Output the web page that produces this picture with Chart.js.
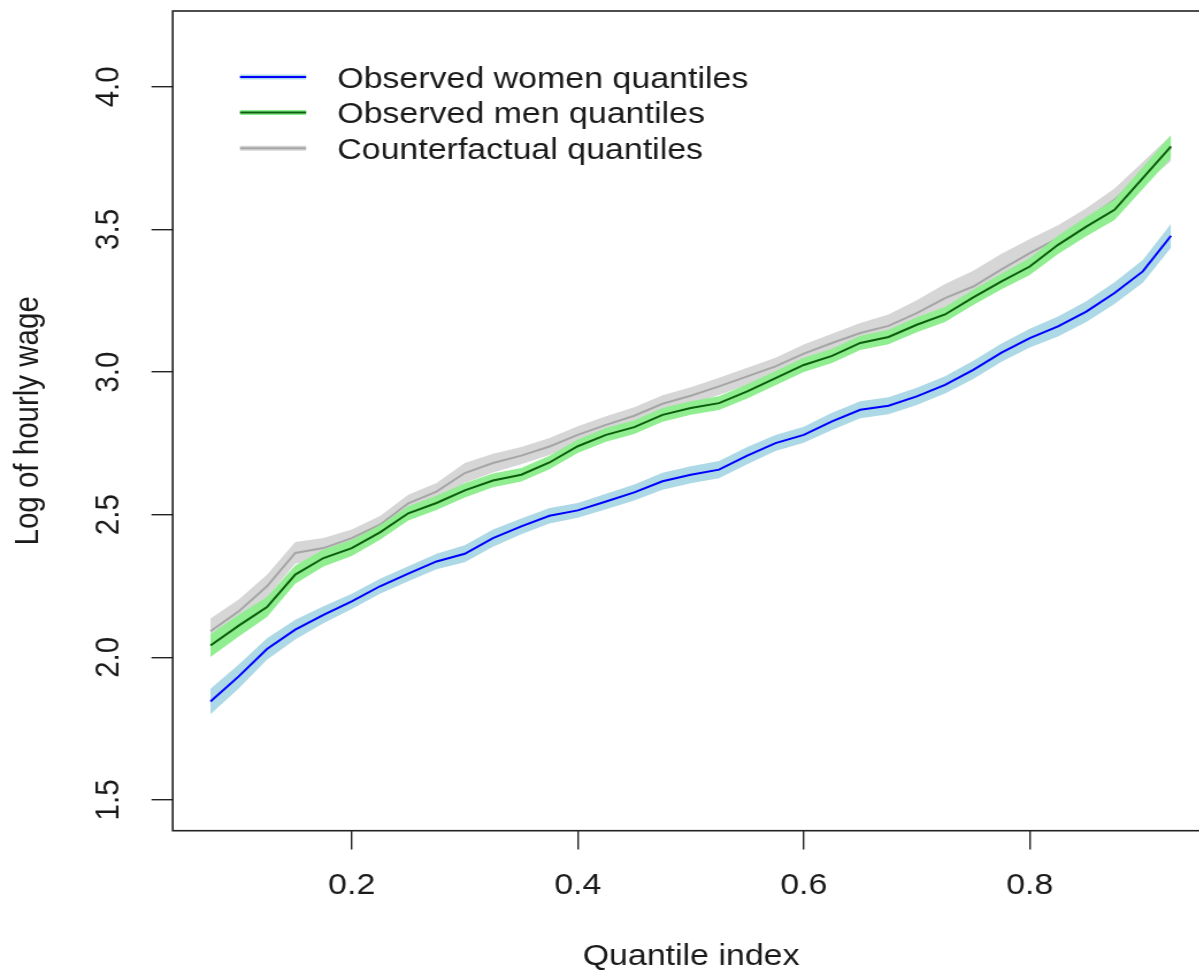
<!DOCTYPE html>
<html>
<head>
<meta charset="utf-8">
<title>Quantiles of log hourly wage</title>
<script src="https://cdn.jsdelivr.net/npm/chart.js@4.4.1/dist/chart.umd.min.js"></script>
<style>
  html, body { margin: 0; padding: 0; background: #fff; overflow: hidden; }
  #wrap { width: 1199px; height: 975px; overflow: hidden; position: relative; background: #fff; }
  /* the figure is drawn narrow and widened, like the exported plot */
  #wage-chart { transform: scaleX(1.15); transform-origin: 0 0; display: block; }
</style>
</head>
<body>
<div id="wrap">
  <canvas id="wage-chart" width="1070" height="975"></canvas>
</div>
<script>
// quantile index grid
const quantiles = [0.075, 0.1, 0.125, 0.15, 0.175, 0.2, 0.225, 0.25, 0.275, 0.3,
  0.325, 0.35, 0.375, 0.4, 0.425, 0.45, 0.475, 0.5, 0.525, 0.55,
  0.575, 0.6, 0.625, 0.65, 0.675, 0.7, 0.725, 0.75, 0.775, 0.8,
  0.825, 0.85, 0.875, 0.9, 0.925];

// estimated quantiles of log hourly wage
const womenQ = [1.845, 1.933, 2.029, 2.097, 2.149, 2.196, 2.249, 2.293, 2.336, 2.363,
  2.418, 2.459, 2.496, 2.515, 2.546, 2.578, 2.617, 2.640, 2.658, 2.707,
  2.751, 2.780, 2.827, 2.868, 2.882, 2.915, 2.955, 3.008, 3.068, 3.119,
  3.160, 3.212, 3.277, 3.353, 3.478];
const menQ = [2.041, 2.111, 2.176, 2.290, 2.348, 2.383, 2.438, 2.505, 2.541, 2.585,
  2.620, 2.640, 2.683, 2.740, 2.780, 2.807, 2.850, 2.874, 2.891, 2.932,
  2.979, 3.025, 3.057, 3.102, 3.123, 3.166, 3.202, 3.262, 3.318, 3.370,
  3.446, 3.510, 3.569, 3.680, 3.791];
const counterQ = [2.091, 2.161, 2.249, 2.366, 2.383, 2.418, 2.465, 2.540, 2.581, 2.646,
  2.681, 2.707, 2.739, 2.780, 2.815, 2.847, 2.889, 2.917, 2.950, 2.985,
  3.020, 3.065, 3.102, 3.137, 3.162, 3.207, 3.259, 3.300, 3.360, 3.417,
  3.470, 3.534, 3.604, 3.697, 3.785];

// half widths of the confidence bands
const womenBand = [0.045, 0.042, 0.038, 0.035, 0.030, 0.027, 0.026, 0.026, 0.027, 0.030,
  0.030, 0.028, 0.027, 0.026, 0.027, 0.028, 0.030, 0.030, 0.030, 0.030,
  0.028, 0.028, 0.030, 0.030, 0.030, 0.030, 0.030, 0.032, 0.032, 0.033,
  0.035, 0.036, 0.038, 0.040, 0.042];
const menBand = [0.040, 0.038, 0.035, 0.032, 0.030, 0.028, 0.026, 0.025, 0.025, 0.025,
  0.024, 0.024, 0.024, 0.024, 0.024, 0.024, 0.024, 0.024, 0.024, 0.025,
  0.025, 0.025, 0.025, 0.025, 0.025, 0.026, 0.026, 0.027, 0.028, 0.030,
  0.032, 0.034, 0.036, 0.038, 0.040];
const counterBand = [0.045, 0.042, 0.040, 0.038, 0.035, 0.030, 0.030, 0.030, 0.030, 0.035,
  0.033, 0.030, 0.030, 0.030, 0.030, 0.030, 0.030, 0.030, 0.030, 0.030,
  0.030, 0.032, 0.032, 0.035, 0.040, 0.045, 0.050, 0.055, 0.055, 0.050,
  0.045, 0.040, 0.040, 0.040, 0.045];

const seriesNames = ['Observed women quantiles', 'Observed men quantiles', 'Counterfactual quantiles'];
const xTicks = [0.2, 0.4, 0.6, 0.8];
const yTicks = [1.5, 2.0, 2.5, 3.0, 3.5, 4.0];

const FONT = '"Liberation Sans", Arial, Helvetica, sans-serif';
const TEXT = '#1a1a1a';
const AXIS = '#222222';

const lineColors = ['#0000ff', '#0b5e0b', '#a6a6a6'];
const bandColors = ['#add8e6', '#90ee90', '#d6d6d6'];

function points(values, offsets, sign) {
    return quantiles.map((q, i) => ({ x: q, y: values[i] + sign * (offsets ? offsets[i] : 0) }));
}

// one line plus an upper/lower pair filled between them
function seriesSets(name, values, band, idx) {
    return [
        { label: name, data: points(values, null, 0), borderColor: lineColors[idx], borderWidth: 2,
          pointRadius: 0, fill: false, tension: 0, showInLegend: true },
        { label: name + ' upper', data: points(values, band, 1), borderWidth: 0, borderColor: 'rgba(0,0,0,0)',
          backgroundColor: bandColors[idx], pointRadius: 0, fill: '+1', tension: 0 },
        { label: name + ' lower', data: points(values, band, -1), borderWidth: 0, borderColor: 'rgba(0,0,0,0)',
          pointRadius: 0, fill: false, tension: 0 }
    ];
}

// first dataset ends up on top, so blue goes first and grey last
const datasets = [
    ...seriesSets(seriesNames[0], womenQ, womenBand, 0),
    ...seriesSets(seriesNames[1], menQ, menBand, 1),
    ...seriesSets(seriesNames[2], counterQ, counterBand, 2)
];

// plot frame like R's box()
const boxPlugin = {
    id: 'plotBox',
    afterDraw(chart) {
        const { ctx, chartArea: a } = chart;
        ctx.save();
        ctx.strokeStyle = AXIS;
        ctx.lineWidth = 1.6;
        ctx.strokeRect(a.left, a.top, a.right - a.left, a.bottom - a.top);
        ctx.restore();
    }
};

// legend sitting inside the plot region, no frame
const insetLegend = {
    id: 'insetLegend',
    afterDraw(chart) {
        const { ctx, chartArea: a } = chart;
        const x0 = a.left + 58.5, lineLen = 57.5, textX = a.left + 143;
        ctx.save();
        ctx.font = '29.5px ' + FONT;
        ctx.textBaseline = 'alphabetic';
        ctx.lineCap = 'butt';
        seriesNames.forEach((name, i) => {
            const y = a.top + 66 + i * 35.6;
            ctx.strokeStyle = bandColors[i];
            ctx.lineWidth = 5;
            ctx.beginPath(); ctx.moveTo(x0, y); ctx.lineTo(x0 + lineLen, y); ctx.stroke();
            ctx.strokeStyle = lineColors[i];
            ctx.lineWidth = 2;
            ctx.beginPath(); ctx.moveTo(x0, y); ctx.lineTo(x0 + lineLen, y); ctx.stroke();
            ctx.fillStyle = TEXT;
            ctx.fillText(name, textX, y + 10.5);
        });
        ctx.restore();
    }
};

const tickFont = { family: FONT, size: 29.5 };

new Chart(document.getElementById('wage-chart').getContext('2d'), {
    type: 'line',
    data: { datasets: datasets },
    options: {
        responsive: false,
        animation: false,
        devicePixelRatio: 1,
        layout: { padding: { left: 0, top: 11, right: 18.3, bottom: 0 } },
        plugins: {
            legend: { display: false },
            tooltip: { enabled: false },
            filler: { propagate: false }
        },
        scales: {
            x: {
                type: 'linear',
                min: 0.0416,
                max: 0.959,
                afterBuildTicks: (s) => { s.ticks = xTicks.map(v => ({ value: v })); },
                afterFit: (s) => { s.height = 144.3; s.paddingLeft = 0; s.paddingRight = 0; },
                grid: { display: true, drawOnChartArea: false, drawTicks: true, tickLength: 18.7,
                        color: AXIS, lineWidth: 1.4 },
                border: { display: false },
                ticks: { font: tickFont, color: TEXT, padding: 18.4, maxRotation: 0, autoSkip: false,
                         callback: (v) => v.toFixed(1) },
                title: { display: true, text: 'Quantile index', font: { family: FONT, size: 29.5 },
                         color: TEXT, padding: { top: 0, bottom: 0 } }
            },
            y: {
                type: 'linear',
                min: 1.392,
                max: 4.266,
                afterBuildTicks: (s) => { s.ticks = yTicks.map(v => ({ value: v })); },
                afterFit: (s) => { s.width = 150.2; s.paddingTop = 0; s.paddingBottom = 0; },
                grid: { display: true, drawOnChartArea: false, drawTicks: true, tickLength: 18.5,
                        color: AXIS, lineWidth: 1.4 },
                border: { display: false },
                ticks: { font: tickFont, color: TEXT, padding: 16, minRotation: 90, maxRotation: 90,
                         crossAlign: 'center', autoSkip: false, callback: (v) => v.toFixed(1) },
                title: { display: true, text: 'Log of hourly wage', font: { family: FONT, size: 29.5 },
                         color: TEXT, padding: { top: 7.5, bottom: 0 } }
            }
        }
    },
    plugins: [boxPlugin, insetLegend]
});
</script>
</body>
</html>
